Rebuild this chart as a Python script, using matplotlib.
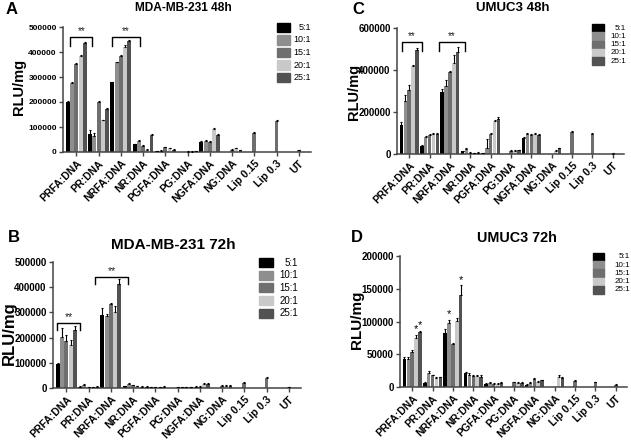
import numpy as np
import matplotlib.pyplot as plt
from matplotlib.patches import Rectangle

plt.rcParams['font.family'] = ['Liberation Sans', 'DejaVu Sans']

groups = ['PRFA:DNA', 'PR:DNA', 'NRFA:DNA', 'NR:DNA', 'PGFA:DNA', 'PG:DNA',
          'NGFA:DNA', 'NG:DNA', 'Lip 0.15', 'Lip 0.3', 'UT']
ratios = ['5:1', '10:1', '15:1', '20:1', '25:1']
colors = ['#000000', '#8e8e8e', '#6f6f6f', '#c9c9c9', '#525252']

nan = np.nan

# MDA-MB-231 48h  (rows = groups, cols = ratios)
a_vals = [[201000, 276000, 352000, 386000, 436000],
          [72000, 64000, 202000, 127000, 174000],
          [279000, 359000, 386000, 422000, 443000],
          [32000, 44000, 25000, 10000, 69000],
          [5000, 6000, 20000, 15000, 10000],
          [nan, nan, 2000, 1500, 4000],
          [40000, 45000, 42000, 93000, 68000],
          [nan, nan, 9000, 15000, 9000],
          [nan, nan, 78000, nan, nan],
          [nan, nan, 126000, nan, nan],
          [nan, nan, 9000, nan, nan]]
a_err = [[2000, 3000, 4000, 4000, 3000],
         [16000, 14000, 3000, 2000, 2000],
         [2000, 3000, 2000, 5000, 6000],
         [2000, 3000, 2000, 2000, 3000],
         [1000, 1000, 2000, 2000, 1000],
         [0, 0, 1000, 1000, 1000],
         [3000, 2000, 2000, 3000, 3000],
         [0, 0, 2000, 2000, 1000],
         [0, 0, 3000, 0, 0],
         [0, 0, 3000, 0, 0],
         [0, 0, 1000, 0, 0]]

# UMUC3 48h
c_vals = [[139000, 251000, 304000, 418000, 497000],
          [40000, 80000, 92000, 94000, 96000],
          [296000, 323000, 390000, 432000, 485000],
          [12000, 25000, 7000, 5000, 7000],
          [4000, 30000, 95000, 155000, 168000],
          [nan, nan, 15000, 15000, 17000],
          [76000, 95000, 90000, 95000, 92000],
          [nan, nan, nan, 14000, 27000],
          [nan, nan, 103000, nan, nan],
          [nan, nan, 96000, nan, nan],
          [nan, nan, 2000, nan, nan]]
c_err = [[14000, 28000, 24000, 8000, 10000],
         [5000, 5000, 4000, 4000, 4000],
         [13000, 28000, 4000, 40000, 24000],
         [3000, 3000, 2000, 2000, 2000],
         [2000, 42000, 5000, 8000, 8000],
         [0, 0, 3000, 3000, 3000],
         [5000, 4000, 4000, 4000, 4000],
         [0, 0, 0, 3000, 3000],
         [0, 0, 8000, 0, 0],
         [0, 0, 5000, 0, 0],
         [0, 0, 1000, 0, 0]]

# MDA-MB-231 72h
b_vals = [[97000, 202000, 186000, 170000, 231000],
          [5000, 13000, 3000, 2000, 5000],
          [289000, 285000, 333000, 301000, 412000],
          [8000, 16000, 10000, 8000, 5000],
          [5000, 3000, 2000, 3000, 5000],
          [nan, nan, 2000, 2000, 3000],
          [3000, 5000, 5000, 17000, 17000],
          [nan, nan, 8000, 8000, 8000],
          [nan, nan, 20000, nan, nan],
          [nan, nan, 40000, nan, nan],
          [nan, nan, 2000, nan, nan]]
b_err = [[3000, 36000, 26000, 22000, 16000],
         [1000, 2000, 1000, 1000, 1000],
         [27000, 10000, 3000, 25000, 20000],
         [1000, 3000, 2000, 1000, 1000],
         [1000, 1000, 1000, 1000, 1000],
         [0, 0, 1000, 1000, 1000],
         [1000, 1000, 1000, 2000, 2000],
         [0, 0, 2000, 2000, 2000],
         [0, 0, 2000, 0, 0],
         [0, 0, 3000, 0, 0],
         [0, 0, 500, 0, 0]]

# UMUC3 72h
d_vals = [[43000, 43000, 54000, 75000, 84000],
          [6500, 22000, 18000, 14000, 15000],
          [82000, 97000, 65000, 101000, 141000],
          [21000, 19000, 17000, 17000, 16000],
          [5000, 6000, 5000, 5000, 6000],
          [nan, nan, 7000, 6000, 6000],
          [3000, 6000, 12000, 8000, 10000],
          [nan, nan, nan, 15000, 13000],
          [nan, nan, 9000, nan, nan],
          [nan, nan, 7000, nan, nan],
          [nan, nan, 3000, nan, nan]]
d_err = [[3000, 3000, 2000, 5000, 2000],
         [1000, 2000, 1000, 1000, 1000],
         [6000, 6000, 2000, 4000, 14000],
         [2000, 2000, 2000, 2000, 2000],
         [1000, 1000, 1000, 1000, 1000],
         [0, 0, 1000, 1000, 1000],
         [1000, 1000, 1000, 1000, 1000],
         [0, 0, 0, 3000, 2000],
         [0, 0, 1000, 0, 0],
         [0, 0, 1000, 0, 0],
         [0, 0, 1000, 0, 0]]

W, H = 631, 441
fig = plt.figure(figsize=(W / 100, H / 100), dpi=100)


def fbox(l, r, t, b):
    return [l / W, 1 - b / H, (r - l) / W, (b - t) / H]


def panel(rect, vals, errs, ymax, ystep, tick_fs, xt_fs):
    ax = fig.add_axes(rect)
    vals = np.array(vals, dtype=float)
    errs = np.array(errs, dtype=float)
    x = np.arange(len(groups))
    w = 0.19
    for i in range(len(ratios)):
        xs = x + (i - 2) * w
        v = vals[:, i]
        ok = ~np.isnan(v)
        ax.bar(xs[ok], v[ok], w * 0.92, color=colors[i], zorder=2)
        ax.errorbar(xs[ok], v[ok], yerr=[np.zeros(ok.sum()), errs[ok, i]],
                    fmt='none', ecolor='black', elinewidth=0.8, capsize=0.8,
                    capthick=0.8, zorder=3)
    ax.set_xlim(-0.6, 10.55)
    ax.set_ylim(0, ymax)
    ax.set_yticks(np.arange(0, ymax + 1, ystep))
    ax.set_yticklabels([f'{int(t)}' for t in np.arange(0, ymax + 1, ystep)],
                       fontsize=tick_fs, fontweight='bold')
    ax.set_xticks(x)
    ax.set_xticklabels(groups, rotation=45, ha='right', rotation_mode='anchor',
                       fontsize=xt_fs, fontweight='bold')
    for s in ['top', 'right']:
        ax.spines[s].set_visible(False)
    for s in ['left', 'bottom']:
        ax.spines[s].set_color('#444444')
        ax.spines[s].set_linewidth(1.1)
    ax.tick_params(axis='both', length=3, width=1, color='#444444', pad=1.5)
    return ax


def bracket(ax, x0, x1, y, drop, fs):
    ax.plot([x0, x0, x1, x1], [y - drop, y, y, y - drop], color='black', lw=1.0,
            clip_on=False, zorder=4)
    ax.text((x0 + x1) / 2, y + drop * 0.15, '**', ha='center', va='bottom',
            fontsize=fs, color='#222222', clip_on=False)


def legend(x0, sq_w, sq_h, y0, step, x_right, fs):
    for i, (c, lab) in enumerate(zip(colors, ratios)):
        yc = y0 + i * step
        fig.patches.append(Rectangle((x0 / W, 1 - (yc + sq_h / 2) / H), sq_w / W, sq_h / H,
                                     transform=fig.transFigure, color=c))
        fig.text(x_right / W, 1 - yc / H, lab, ha='right', va='center', fontsize=fs)


def ylab(x, y, fs):
    fig.text(x / W, 1 - y / H, 'RLU/mg', rotation=90, ha='center', va='center',
             fontsize=fs, fontweight='bold')


# A
axA = panel(fbox(63, 311, 27, 152), a_vals, a_err, 500000, 100000, 6, 7.5)
ylab(19, 87, 10.5)
bracket(axA, -0.27, 0.72, 460000, 34000, 7)
bracket(axA, 1.62, 2.86, 460000, 34000, 7)
legend(277, 13, 9, 27.5, 12.5, 311, 6.5)
fig.text(183 / W, 1 - 8 / H, 'MDA-MB-231 48h', ha='center', va='center', fontsize=8.6, fontweight='bold')
fig.text(6 / W, 1 - 9 / H, 'A', ha='left', va='center', fontsize=12, fontweight='bold')

# C
axC = panel(fbox(397, 624, 28, 154), c_vals, c_err, 600000, 200000, 7, 7.5)
ylab(354, 92, 10.5)
bracket(axC, -0.36, 0.61, 533000, 43000, 7)
bracket(axC, 1.48, 2.74, 533000, 43000, 7)
legend(592, 12, 8, 28, 8.3, 626, 5.8)
fig.text(513 / W, 1 - 8 / H, 'UMUC3 48h', ha='center', va='center', fontsize=9.5, fontweight='bold')
fig.text(358 / W, 1 - 10 / H, 'C', ha='center', va='center', fontsize=12, fontweight='bold')

# B
axB = panel(fbox(53, 301, 262, 388), b_vals, b_err, 500000, 100000, 7, 7.5)
ylab(9, 333, 12)
bracket(axB, -0.41, 0.61, 258000, 28000, 7.5)
bracket(axB, 1.31, 2.77, 440000, 28000, 7.5)
legend(259, 14, 9, 262.5, 12.7, 298, 7)
fig.text(173 / W, 1 - 245 / H, 'MDA-MB-231 72h', ha='center', va='center', fontsize=11, fontweight='bold')
fig.text(8 / W, 1 - 237 / H, 'B', ha='left', va='center', fontsize=12, fontweight='bold')

# D
axD = panel(fbox(400, 627, 256, 387), d_vals, d_err, 200000, 50000, 7, 7.5)
ylab(357, 320, 11)
for gi, ri in [(0, 3), (0, 4), (2, 1), (2, 4)]:
    top = d_vals[gi][ri] + d_err[gi][ri]
    axD.text(gi + (ri - 2) * 0.19, top + 1000, '*', ha='center', va='bottom', fontsize=8)
legend(593, 11, 8, 257, 8.2, 630, 5.8)
fig.text(517 / W, 1 - 238 / H, 'UMUC3 72h', ha='center', va='center', fontsize=10.4, fontweight='bold')
fig.text(357 / W, 1 - 238 / H, 'D', ha='center', va='center', fontsize=12, fontweight='bold')

fig.savefig('out.png', dpi=100)
